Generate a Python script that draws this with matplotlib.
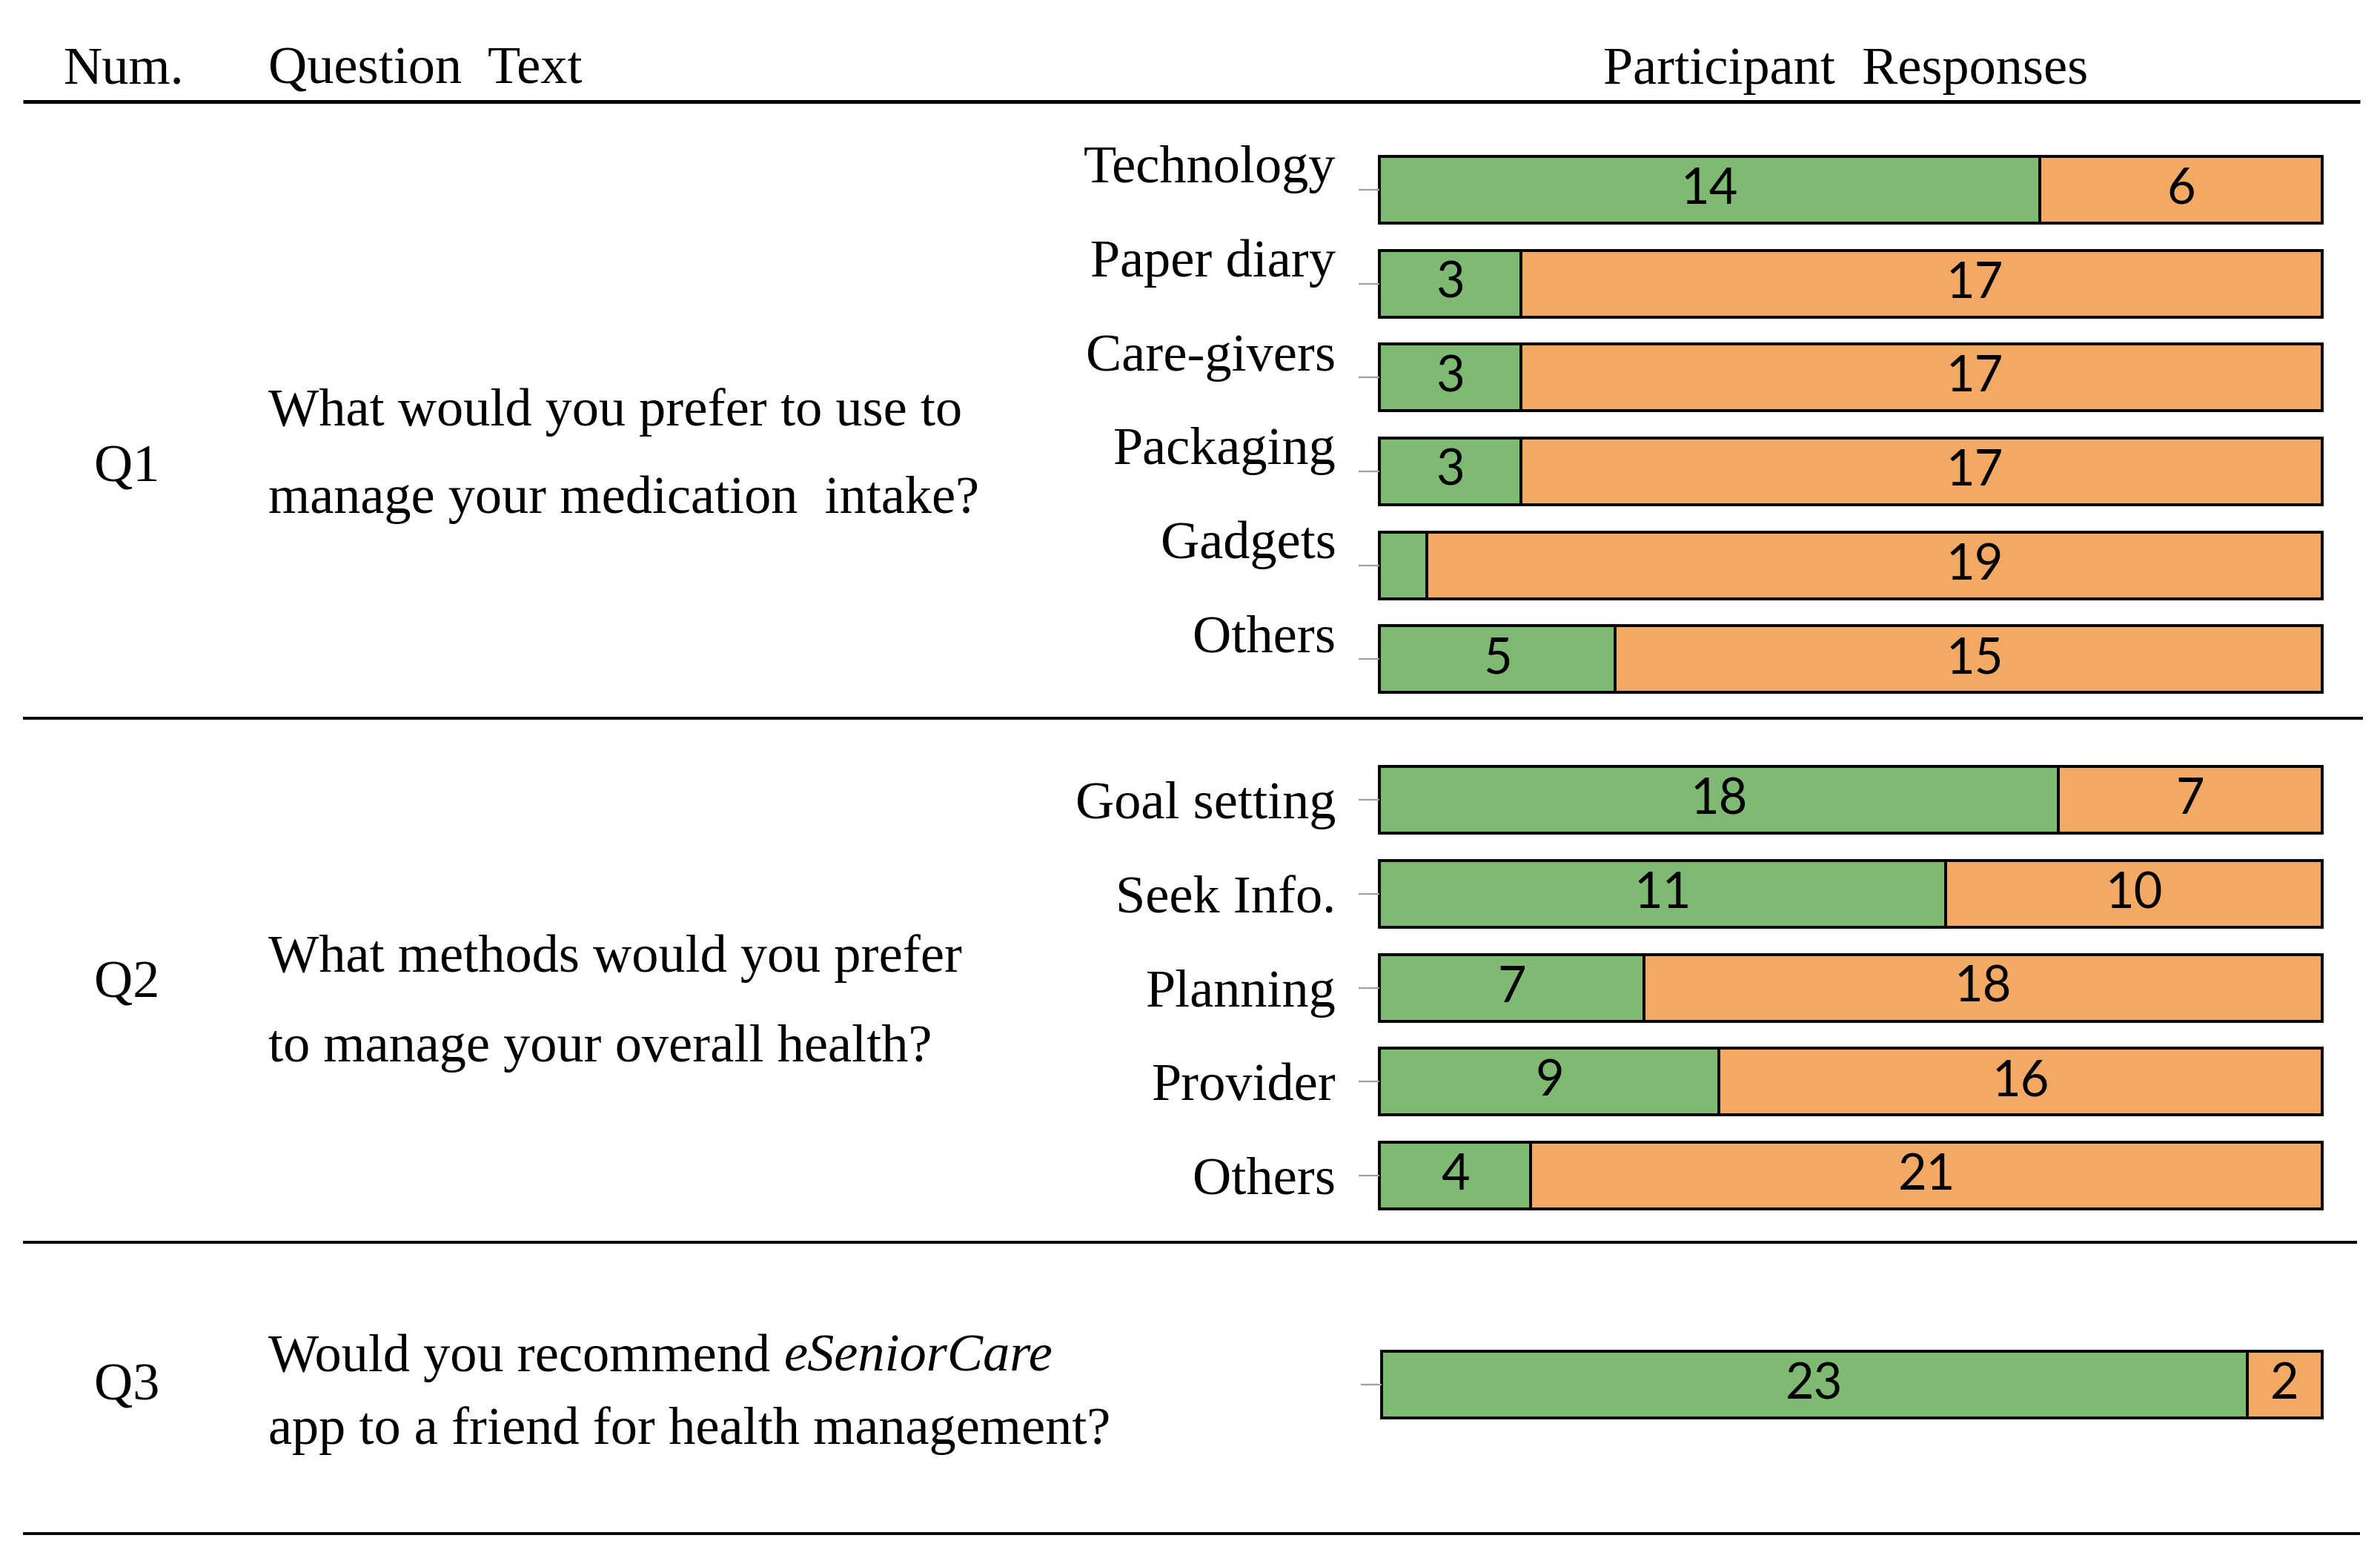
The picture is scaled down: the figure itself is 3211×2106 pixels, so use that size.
import matplotlib
matplotlib.use('Agg')
import matplotlib.pyplot as plt
from matplotlib.lines import Line2D
from matplotlib.transforms import ScaledTranslation

# ---------------- data ----------------
q1_categories = ['Technology', 'Paper diary', 'Care-givers', 'Packaging', 'Gadgets', 'Others']
q1_yes = [14, 3, 3, 3, 1, 5]
q1_no = [6, 17, 17, 17, 19, 15]
q1_yes_labels = ['14', '3', '3', '3', '', '5']
q1_no_labels = ['6', '17', '17', '17', '19', '15']

q2_categories = ['Goal setting', 'Seek Info.', 'Planning', 'Provider', 'Others']
# bar lengths as drawn in the picture (the "Seek Info." bar is drawn at 15 of 25)
q2_yes = [18, 15, 7, 9, 4]
q2_no = [7, 10, 18, 16, 21]
q2_yes_labels = ['18', '11', '7', '9', '4']
q2_no_labels = ['7', '10', '18', '16', '21']

q3_categories = ['']
q3_yes = [23]
q3_no = [2]
q3_yes_labels = ['23']
q3_no_labels = ['2']

header_labels = ['Num.', 'Question  Text', 'Participant  Responses']
question_nums = ['Q1', 'Q2', 'Q3']
q1_text = ['What would you prefer to use to', 'manage your medication  intake?']
q2_text = ['What methods would you prefer', 'to manage your overall health?']
q3_text_a = 'Would you recommend'
q3_text_italic = 'eSeniorCare'
q3_text_b = 'app to a friend for health management?'

GREEN = '#7FBA72'
ORANGE = '#F2A963'
SERIF = 'Liberation Serif'
SANS = 'Lato'

# ---------------- layout helpers (reference pixel grid 1568 x 1028) ----------------
W, H = 1568.0, 1028.0
def fx(x):
    return x / W
def fy(y):
    return 1.0 - y / H

fig = plt.figure(figsize=(32.11, 21.06), dpi=100)
fig.patch.set_facecolor('white')

TXT = 52
NUM = 48
# in the first panel the orange-segment numbers of rows 2-6 sit at a common x (axes fraction)
Q1_NO_LABEL_X = 0.631

# header
fig.text(fx(42), fy(55), header_labels[0], fontsize=TXT, family=SERIF, va='baseline', ha='left')
fig.text(fx(177), fy(55), header_labels[1], fontsize=TXT, family=SERIF, va='baseline', ha='left')
fig.text(fx(1216), fy(55), header_labels[2], fontsize=TXT, family=SERIF, va='baseline', ha='center')

# horizontal rules
for y, x1, lw in [(67, 1555, 3.6), (473, 1557, 2.8), (818, 1553, 2.8), (1010, 1555, 2.8)]:
    fig.add_artist(Line2D([fx(15), fx(x1)], [fy(y), fy(y)], color='black', lw=lw,
                          transform=fig.transFigure, solid_capstyle='butt'))

# question numbers
for label, y in zip(question_nums, [317, 657, 922]):
    fig.text(fx(62), fy(y), label, fontsize=TXT, family=SERIF, va='baseline', ha='left')

# question texts
for line, y in zip(q1_text, [280, 338]):
    fig.text(fx(177), fy(y), line, fontsize=TXT, family=SERIF, va='baseline', ha='left')
for line, y in zip(q2_text, [640, 699]):
    fig.text(fx(177), fy(y), line, fontsize=TXT, family=SERIF, va='baseline', ha='left')
t3 = fig.text(fx(177), fy(903), q3_text_a, fontsize=TXT, family=SERIF, va='baseline', ha='left')
fig.text(fx(177), fy(951), q3_text_b, fontsize=TXT, family=SERIF, va='baseline', ha='left')

# italic product name following the first line of Q3
fig.canvas.draw()
ext = t3.get_window_extent()
space_px = 0.25 * TXT * fig.dpi / 72.0
fig_w_px = fig.get_figwidth() * fig.dpi
fig.text((ext.x1 + space_px) / fig_w_px, fy(903), q3_text_italic, fontsize=TXT, family=SERIF,
         style='italic', va='baseline', ha='left')


def draw_panel(ax, cats, yes, no, yes_labels, no_labels, raise_labels=0.0, fixed_no_x=None):
    totals = [a + b for a, b in zip(yes, no)]
    share_yes = [a / t for a, t in zip(yes, totals)]
    share_no = [b / t for b, t in zip(no, totals)]
    pos = list(range(len(cats)))
    b1 = ax.barh(pos, share_yes, height=0.71, color=GREEN, edgecolor='black',
                 linewidth=2.8, clip_on=False)
    b2 = ax.barh(pos, share_no, left=share_yes, height=0.71, color=ORANGE,
                 edgecolor='black', linewidth=2.8, clip_on=False)
    ax.bar_label(b1, labels=yes_labels, label_type='center',
                 fontsize=NUM, family=SANS, color='black')
    if fixed_no_x is None:
        ax.bar_label(b2, labels=no_labels, label_type='center',
                     fontsize=NUM, family=SANS, color='black')
    else:
        for i, (p, lab, sy, sn) in enumerate(zip(pos, no_labels, share_yes, share_no)):
            x = sy + sn / 2 if i == 0 else fixed_no_x
            ax.text(x, p, lab, ha='center', va='center', fontsize=NUM,
                    family=SANS, color='black')
    ax.set_xlim(0, 1)
    ax.set_ylim(len(cats) - 0.5, -0.5)
    ax.set_yticks(pos)
    ax.set_yticklabels(cats, fontsize=TXT, family=SERIF)
    ax.set_xticks([])
    ax.tick_params(axis='y', length=20.5, width=1.6, color='#A0A0A0', pad=22)
    for s in ax.spines.values():
        s.set_visible(False)
    ax.set_facecolor('none')
    if raise_labels:
        off = ScaledTranslation(0, raise_labels / 72.0, fig.dpi_scale_trans)
        for lab in ax.get_yticklabels():
            lab.set_transform(lab.get_transform() + off)


ax1 = fig.add_axes([fx(909), fy(465), fx(1530) - fx(909), fy(94) - fy(465)])
draw_panel(ax1, q1_categories, q1_yes, q1_no, q1_yes_labels, q1_no_labels,
           raise_labels=25, fixed_no_x=Q1_NO_LABEL_X)

ax2 = fig.add_axes([fx(909), fy(805), fx(1530) - fx(909), fy(496) - fy(805)])
draw_panel(ax2, q2_categories, q2_yes, q2_no, q2_yes_labels, q2_no_labels)

ax3 = fig.add_axes([fx(910), fy(943), fx(1530) - fx(910), fy(881) - fy(943)])
draw_panel(ax3, q3_categories, q3_yes, q3_no, q3_yes_labels, q3_no_labels)

fig.savefig('out.png', dpi=100, facecolor='white')
